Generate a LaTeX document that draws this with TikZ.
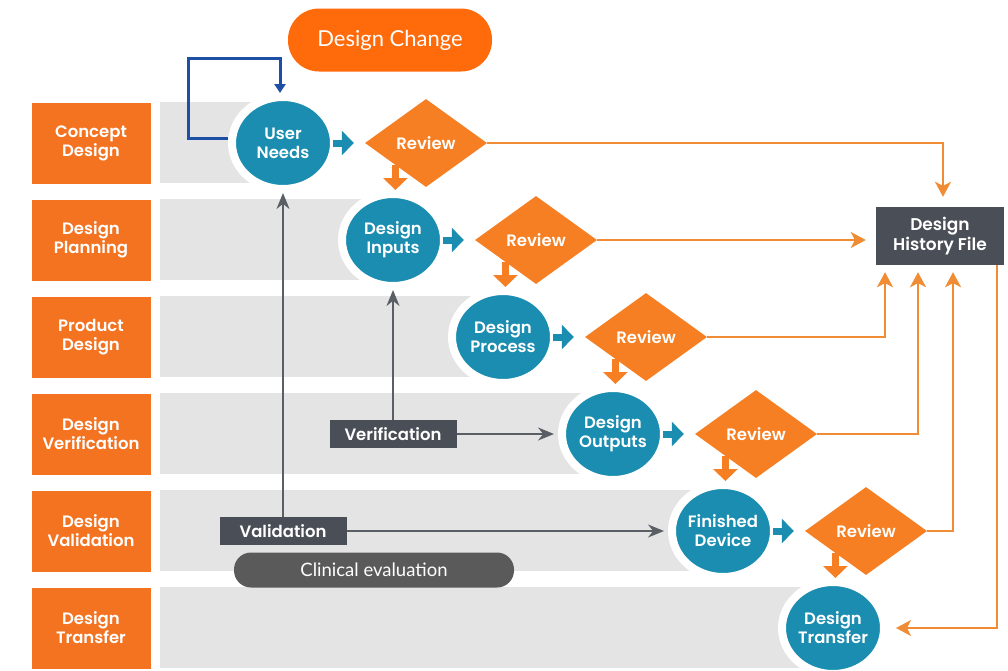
\documentclass[tikz,border=0pt]{standalone}
\usepackage{fontspec}
\setmainfont{Lato}
\newfontfamily\headfont[BoldFont={Poppins SemiBold}]{Poppins}
\usetikzlibrary{shapes.geometric,arrows.meta,calc}

\definecolor{stageorange}{HTML}{F37321}
\definecolor{revieworange}{HTML}{F57F22}
\definecolor{changeorange}{HTML}{FF6A0A}
\definecolor{lineorange}{HTML}{F08C34}
\definecolor{actteal}{HTML}{1A8DB0}
\definecolor{dhfgray}{HTML}{4A4F57}
\definecolor{clinicgray}{HTML}{5A5A5A}
\definecolor{bandgray}{HTML}{E4E4E4}
\definecolor{arrowgray}{HTML}{5A5F66}
\definecolor{loopblue}{HTML}{1E4FA6}

\begin{document}
\begin{tikzpicture}[x=1pt,y=-1pt,
    stage/.style ={fill=stageorange, minimum width=119, minimum height=81, inner sep=0pt,
                   align=center, text=white, font=\headfont\bfseries\fontsize{16.5}{19}\selectfont},
    activity/.style ={ellipse, fill=actteal, draw=white, line width=8pt, minimum width=102,
                   minimum height=92, inner sep=0pt, align=center, text=white,
                   font=\headfont\bfseries\fontsize{16.5}{19}\selectfont},
    review/.style ={diamond, fill=revieworange, minimum width=122, minimum height=88, inner sep=0pt,
                   text=white, font=\headfont\bfseries\fontsize{16.5}{19}\selectfont},
    check/.style ={fill=dhfgray, minimum width=127, minimum height=28, inner sep=0pt,
                   text=white, font=\headfont\bfseries\fontsize{16.5}{19}\selectfont},
    pill/.style ={text=white, inner sep=0pt},
    flow/.style ={line width=7pt, -{Triangle[width=24pt,length=12pt]}},
    record/.style ={lineorange, line width=2pt, -{Stealth[length=15pt,width=16pt,inset=4pt]}},
    trace/.style ={arrowgray, line width=2pt, -{Stealth[length=16pt,width=13pt]}}]
   \useasboundingbox (0,0) rectangle (1008,670);
   % background bands
   \fill[bandgray] (160,102) rectangle (283,183);
   \fill[bandgray] (160,199) rectangle (393,280);
   \fill[bandgray] (160,296) rectangle (503,377);
   \fill[bandgray] (160,393) rectangle (613,474);
   \fill[bandgray] (160,490) rectangle (723,571);
   \fill[bandgray] (160,587) rectangle (833,668);
   % phases
   \node[stage] (S1) at (91,143) {Concept\\Design};
   \node[stage] (S2) at (91,240) {Design\\Planning};
   \node[stage] (S3) at (91,337) {Product\\Design};
   \node[stage] (S4) at (91,434) {Design\\Verification};
   \node[stage] (S5) at (91,531) {Design\\Validation};
   \node[stage] (S6) at (91,628) {Design\\Transfer};
   % activities
   \node[activity] (UN) at (283,143) {User\\Needs};
   \node[activity] (DI) at (393,240) {Design\\Inputs};
   \node[activity] (DP) at (503,337) {Design\\Process};
   \node[activity] (DO) at (613,434) {Design\\Outputs};
   \node[activity] (FD) at (723,531) {Finished\\Device};
   \node[activity] (DT) at (833,628) {Design\\Transfer};
   % reviews
   \node[review] (R1) at (426,143) {Review};
   \node[review] (R2) at (536,240) {Review};
   \node[review] (R3) at (646,337) {Review};
   \node[review] (R4) at (756,434) {Review};
   \node[review] (R5) at (866,531) {Review};
   \node[check, minimum width=128, minimum height=58, align=center,
         font=\headfont\bfseries\fontsize{17}{20}\selectfont] (DHF) at (940,236) {Design\\History File};
   \node[check] (VER) at (393,434) {Verification};
   \node[check] (VAL) at (283,531) {Validation};
   \node[pill, fill=clinicgray, minimum width=280, minimum height=35, rounded corners=17pt,
         font=\fontsize{18.5}{21}\selectfont] (CE) at (374,570) {Clinical evaluation};
   \node[pill, fill=changeorange, minimum width=204, minimum height=63, rounded corners=31pt,
         font=\fontsize{22}{25}\selectfont] (DC) at (390,40) {Design Change};
   % activity to review
   \draw[flow, actteal, shorten <=-5pt, shorten >=11pt] (UN.east) -- (R1.west);
   \draw[flow, actteal, shorten <=-5pt, shorten >=11pt] (DI.east) -- (R2.west);
   \draw[flow, actteal, shorten <=-5pt, shorten >=11pt] (DP.east) -- (R3.west);
   \draw[flow, actteal, shorten <=-5pt, shorten >=11pt] (DO.east) -- (R4.west);
   \draw[flow, actteal, shorten <=-5pt, shorten >=11pt] (FD.east) -- (R5.west);
   % review to next activity
   \draw[flow, revieworange] (R1.south west) -- (R1.south west |- DI.north);
   \draw[flow, revieworange] (R2.south west) -- (R2.south west |- DP.north);
   \draw[flow, revieworange] (R3.south west) -- (R3.south west |- DO.north);
   \draw[flow, revieworange] (R4.south west) -- (R4.south west |- FD.north);
   \draw[flow, revieworange] (R5.south west) -- (R5.south west |- DT.north);
   % records
   \draw[record, shorten >=10pt] (R1.east) -| ([xshift=3pt]DHF.north);
   \draw[record, shorten >=10pt] (R2.east) -- (R2.east -| DHF.west);
   \draw[record, shorten >=7pt] (R3.east) -| ([xshift=-55pt]DHF.south);
   \draw[record, shorten >=7pt] (R4.east) -| ([xshift=-22pt]DHF.south);
   \draw[record, shorten >=7pt] (R5.east) -| ([xshift=13pt]DHF.south);
   \draw[record, shorten >=8pt] ([xshift=57pt]DHF.south) |- (DT.east);
   % verification and validation
   \draw[trace] (VER.north) -- (DI.south);
   \draw[trace, shorten >=4pt] (VER.east) -- (DO.west);
   \draw[trace] (VAL.north) -- (UN.south);
   \draw[trace, shorten >=4pt] (VAL.east) -- (FD.west);
   % design change loop
   \coordinate (LC) at (188,58);
   \draw[loopblue, line width=3pt, -{Triangle[width=11pt,length=9pt]}]
      ([yshift=5pt]UN.west) -| (LC) -| ([xshift=-3pt]UN.north);
\end{tikzpicture}
\end{document}
